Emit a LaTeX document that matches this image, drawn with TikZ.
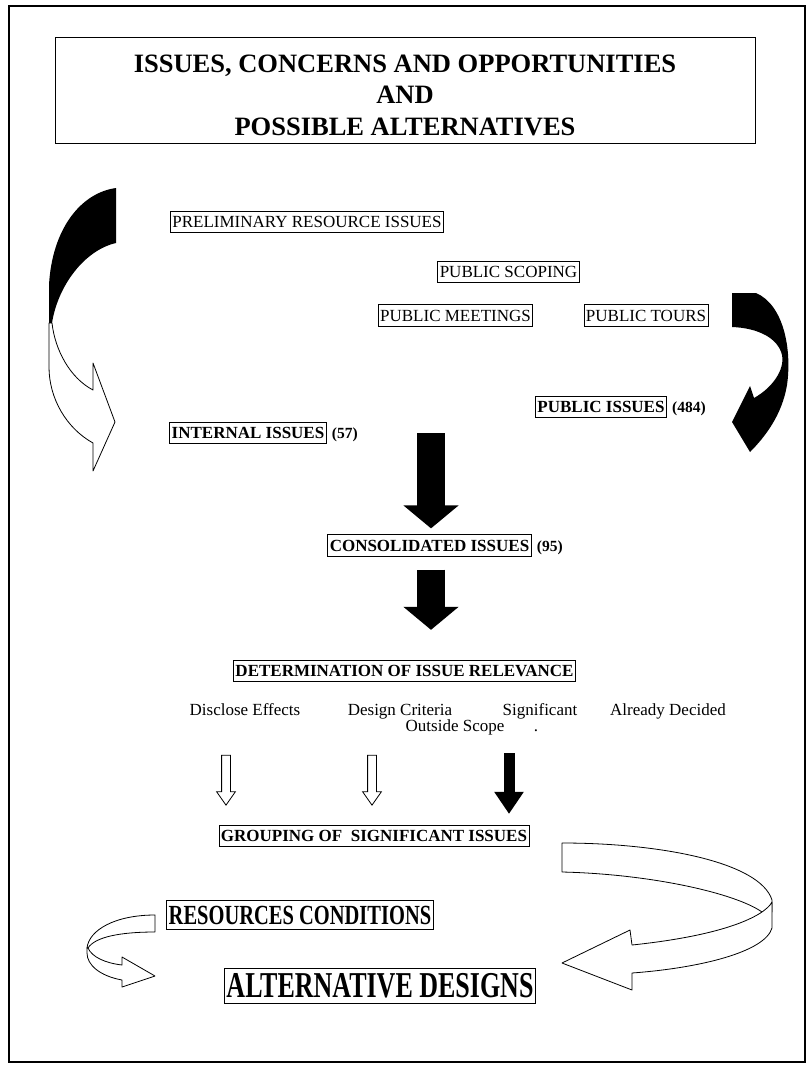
\documentclass[tikz,border=0pt]{standalone}
\usepackage{fontspec}
\usepackage{graphicx}
\setmainfont{Liberation Serif}
\usetikzlibrary{arrows.meta, positioning, shapes.arrows}
\newcommand{\setfs}[1]{\fontsize{#1}{#1}\selectfont}
\tikzset{
  box/.style={
    draw=black,
    line width=0.8pt,
    inner xsep=2pt,
    inner ysep=5pt
  },
  plainbox/.style={box, font=\setfs{17}},
  boldbox/.style={box, font=\bfseries\setfs{17}},
  tally/.style={inner sep=1pt, font=\bfseries\setfs{15.5}},
  choice/.style={inner sep=0pt, anchor=base, font=\setfs{17}},
  flow/.style={line width=28pt, -{Triangle[width=54pt, length=23pt]}},
  thinflow/.style={line width=11pt, -{Triangle[width=28pt, length=22pt]}},
  hollow/.style={single arrow, draw=black, fill=white, line width=0.8pt,
    shape border rotate=270, inner sep=4pt, single arrow head extend=5pt,
    single arrow tip angle=70, minimum height=50pt},
  ribbon/.style={draw=black, fill=white, line width=0.8pt, line join=round}
}

\begin{document}
\begin{tikzpicture}[x=1pt, y=-1pt]

\useasboundingbox (0,0) rectangle (807,1068);
\draw[line width=2.2pt] (9,6) rectangle (805,1062);

% heading
\node[box, line width=1pt, minimum width=700pt, minimum height=106pt] (titlebox) at (405,90) {};
\node[align=center, inner sep=0pt, font=\bfseries\fontsize{26.5}{31.5}\selectfont] (title) at (405,95) {
  ISSUES, CONCERNS AND OPPORTUNITIES\\
  AND\\
  POSSIBLE ALTERNATIVES
};

% sources of issues
\node[plainbox] (prelim) at (307,222) {PRELIMINARY RESOURCE ISSUES};
\node[plainbox] (scoping) at (508.5,272) {PUBLIC SCOPING};
\node[plainbox] (meetings) at (455.5,315.5) {PUBLIC MEETINGS};
\node[plainbox] (tours) at (646,315.5) {PUBLIC TOURS};

\node[boldbox] (public) at (601,407) {PUBLIC ISSUES};
\node[tally, base right=4pt of public] (publicn) {(484)};
\node[boldbox] (internal) at (248,433) {INTERNAL ISSUES};
\node[tally, base right=4pt of internal] (internaln) {(57)};

\node[boldbox] (cons) at (429.5,545.5) {CONSOLIDATED ISSUES};
\node[tally, base right=4pt of cons] (consn) {(95)};

\node[boldbox] (relevance) at (404.5,671) {DETERMINATION OF ISSUE RELEVANCE};

% relevance categories
\node[choice] (disclose) at (245,715) {Disclose Effects};
\node[choice] (design) at (400,715) {Design Criteria};
\node[choice] (significant) at (540,715) {Significant};
\node[choice] (decided) at (668,715) {Already Decided};
\node[choice] (outside) at (455,731) {Outside Scope};
\node[choice] (stray) at (536,731) {.};

\node[hollow] (effectsarrow) at (226,777) {};
\node[hollow] (criteriaarrow) at (372,777) {};

\node[boldbox] (grouping) at (374,836) {GROUPING OF\ \ SIGNIFICANT ISSUES};
\node[boldbox, font=\bfseries\setfs{20.5}] (resources) at (300,915) {\scalebox{1}[1.35]{RESOURCES CONDITIONS}};
\node[boldbox, font=\bfseries\setfs{26}] (designs) at (380,986) {\scalebox{1}[1.4]{ALTERNATIVE DESIGNS}};

% straight block arrows
\coordinate (merge) at (431,433);
\coordinate (cut) at (509,753);
\draw[flow, shorten >=6pt] (merge) -- (merge |- cons.north);
\draw[flow, shorten <=13pt, shorten >=30pt] (merge |- cons.south) -- (merge |- relevance.north);
\draw[thinflow, shorten >=11pt] (cut) -- (cut |- grouping.north);

% left sweep, internal issues
\fill (116,188) -- (116,243) .. controls (85,250) and (58,285) .. (52,323)
  -- (49,323) -- (49,285) .. controls (52,230) and (80,193) .. (116,188) -- cycle;
\draw[ribbon] (52,323) .. controls (55,350) and (70,378) .. (93,390) -- (93,363)
  -- (115,422) -- (93,471) -- (93,443) .. controls (66,428) and (49,398) .. (49,367)
  -- (49,323) -- cycle;

% right sweep, public issues
\fill (732,293) -- (756,293) .. controls (784,305) and (792,350) .. (787,385)
  .. controls (782,415) and (765,437) .. (750,452) -- (732,422) -- (750,386) -- (754,398)
  .. controls (772,388) and (785,370) .. (782,355) .. controls (778,338) and (758,328) .. (732,327)
  -- cycle;

% sweep to alternative designs
\draw[ribbon] (562,843) .. controls (660,843) and (760,862) .. (772,900) -- (772,912) -- (762,912)
  .. controls (735,893) and (650,874) .. (562,872) -- cycle;
\draw[ribbon] (762,912) .. controls (735,930) and (680,940) .. (632,945) -- (630,930) -- (562,963)
  -- (632,990) -- (632,973) .. controls (700,968) and (765,952) .. (772,928) -- (772,902)
  .. controls (770,906) and (766,909) .. (762,912) -- cycle;

% small sweep from resources conditions
\draw[ribbon] (155,915) -- (155,932) .. controls (120,932) and (95,937) .. (88,948) -- (87,948)
  .. controls (89,930) and (115,915) .. (155,915) -- cycle;
\draw[ribbon] (88,948) .. controls (92,957) and (105,963) .. (122,965) -- (122,957) -- (155,976)
  -- (122,987) -- (122,980) .. controls (100,976) and (87,965) .. (87,953) -- (87,948) -- cycle;

\end{tikzpicture}
\end{document}
